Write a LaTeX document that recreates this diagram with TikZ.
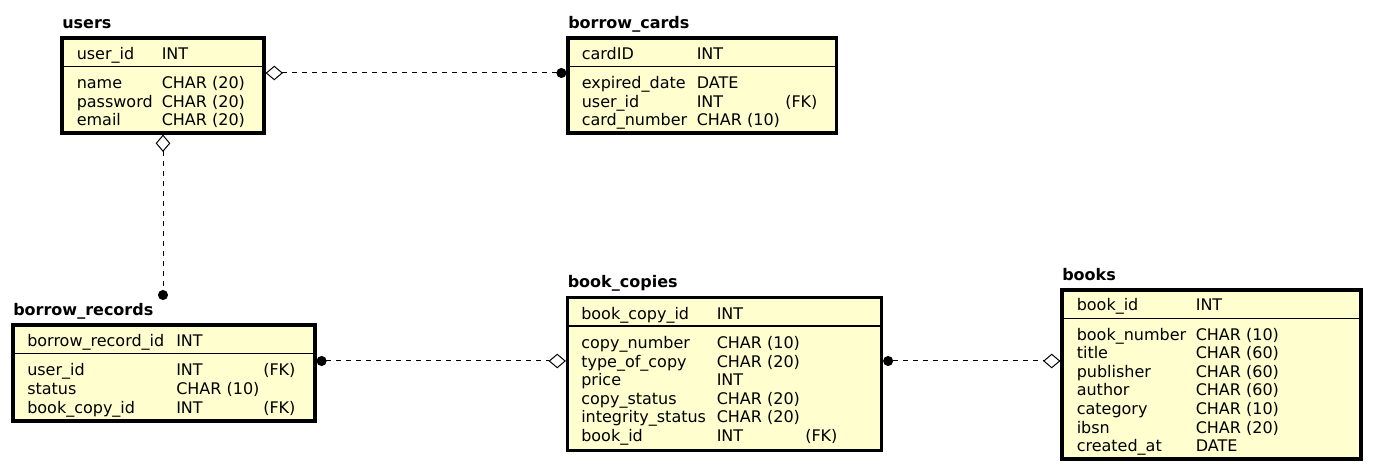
\documentclass[tikz,border=0pt]{standalone}
\usepackage{fontspec}
\setmainfont{DejaVu Sans}
\usetikzlibrary{arrows.meta,fit}
\definecolor{entfill}{HTML}{FEFECE}
\tikzset{
	tbl/.style={rectangle, draw=black, line width=2.4pt, fill=entfill, inner sep=0pt},
	ttl/.style={anchor=base west, inner sep=0pt, font=\fontsize{12}{14}\selectfont\bfseries},
	fld/.style={anchor=base west, inner sep=0pt, font=\fontsize{12}{14}\selectfont},
	sep/.style={line width=0.8pt},
	rel/.style={line width=0.75pt, dash pattern=on 3.75pt off 3.75pt},
	odia/.tip={Diamond[open, length=13pt, width=11pt]},
	fdot/.tip={Circle[length=7.5pt]}
}
\begin{document}
\begin{tikzpicture}[x=0.75pt, y=-0.75pt]
	\useasboundingbox (0,0) rectangle (1373,473);

	% Tabelle users
	\node[tbl, fit={(62,38) (264,133)}] (users) {};
	\node[ttl] (users-t) at (62,28.5) {users};
	\draw[sep] (62,66.3) -- (264,66.3);
	\node[fld] (users-k1) at (76.5,59.3) {user\_id};
	\node[fld] (users-k2) at (161.5,59.3) {INT};
	\foreach \a/\b [count=\i] in {name/CHAR (20), password/CHAR (20), email/CHAR (20)} {
		\pgfmathsetmacro{\yy}{88.8+18.5*(\i-1)}
		\node[fld] (users-a\i) at (76.5,\yy) {\a};
		\node[fld] (users-b\i) at (161.5,\yy) {\b};
	}

	% Tabelle borrow_cards
	\node[tbl, fit={(568,38) (836.5,133)}] (cards) {};
	\node[ttl] (cards-t) at (568,28.5) {borrow\_cards};
	\draw[sep] (568,66.3) -- (836.5,66.3);
	\node[fld] (cards-k1) at (581.5,59.3) {cardID};
	\node[fld] (cards-k2) at (696.5,59.3) {INT};
	\foreach \a/\b/\c [count=\i] in {expired\_date/DATE/{}, user\_id/INT/(FK), card\_number/CHAR (10)/{}} {
		\pgfmathsetmacro{\yy}{88.8+18.5*(\i-1)}
		\node[fld] (cards-a\i) at (581.5,\yy) {\a};
		\node[fld] (cards-b\i) at (696.5,\yy) {\b};
		\node[fld] (cards-c\i) at (785,\yy) {\c};
	}

	% Tabelle borrow_records
	\node[tbl, fit={(13,325) (315,421)}] (records) {};
	\node[ttl] (records-t) at (13,316) {borrow\_records};
	\draw[sep] (13,353.3) -- (315,353.3);
	\node[fld] (records-k1) at (27,346.5) {borrow\_record\_id};
	\node[fld] (records-k2) at (176,346.5) {INT};
	\foreach \a/\b/\c [count=\i] in {user\_id/INT/(FK), status/CHAR (10)/{}, book\_copy\_id/INT/(FK)} {
		\pgfmathsetmacro{\yy}{376+18.5*(\i-1)}
		\node[fld] (records-a\i) at (27,\yy) {\a};
		\node[fld] (records-b\i) at (176,\yy) {\b};
		\node[fld] (records-c\i) at (263,\yy) {\c};
	}

	% Tabelle book_copies
	\node[tbl, fit={(567.5,297.5) (881.5,450.5)}] (copies) {};
	\node[ttl] (copies-t) at (567.5,288) {book\_copies};
	\draw[sep] (567.5,326) -- (881.5,326);
	\node[fld] (copies-k1) at (581,319.3) {book\_copy\_id};
	\node[fld] (copies-k2) at (716.5,319.3) {INT};
	\foreach \a/\b/\c [count=\i] in {copy\_number/CHAR (10)/{}, type\_of\_copy/CHAR (20)/{}, price/INT/{}, copy\_status/CHAR (20)/{}, integrity\_status/CHAR (20)/{}, book\_id/INT/(FK)} {
		\pgfmathsetmacro{\yy}{348.7+18.5*(\i-1)}
		\node[fld] (copies-a\i) at (581,\yy) {\a};
		\node[fld] (copies-b\i) at (716.5,\yy) {\b};
		\node[fld] (copies-c\i) at (805,\yy) {\c};
	}

	% Tabelle books
	\node[tbl, fit={(1062,290) (1361,459)}] (books) {};
	\node[ttl] (books-t) at (1062,280.5) {books};
	\draw[sep] (1062,318.5) -- (1361,318.5);
	\node[fld] (books-k1) at (1076.5,310.5) {book\_id};
	\node[fld] (books-k2) at (1195.5,310.5) {INT};
	\foreach \a/\b [count=\i] in {book\_number/CHAR (10), title/CHAR (60), publisher/CHAR (60), author/CHAR (60), category/CHAR (10), ibsn/CHAR (20), created\_at/DATE} {
		\pgfmathsetmacro{\yy}{340.5+18.5*(\i-1)}
		\node[fld] (books-a\i) at (1076.5,\yy) {\a};
		\node[fld] (books-b\i) at (1195.5,\yy) {\b};
	}

	% Beziehungen
	\coordinate (records-in) at (163,300);
	\draw[rel, odia-fdot] (users.east |- 0,73) -- (cards.west |- 0,73);
	\draw[rel, odia-fdot] (users.south) -- (records-in);
	\draw[rel, fdot-odia] (records.east |- 0,361) -- (copies.west |- 0,361);
	\draw[rel, fdot-odia] (copies.east |- 0,361) -- (books.west |- 0,361);
\end{tikzpicture}
\end{document}
